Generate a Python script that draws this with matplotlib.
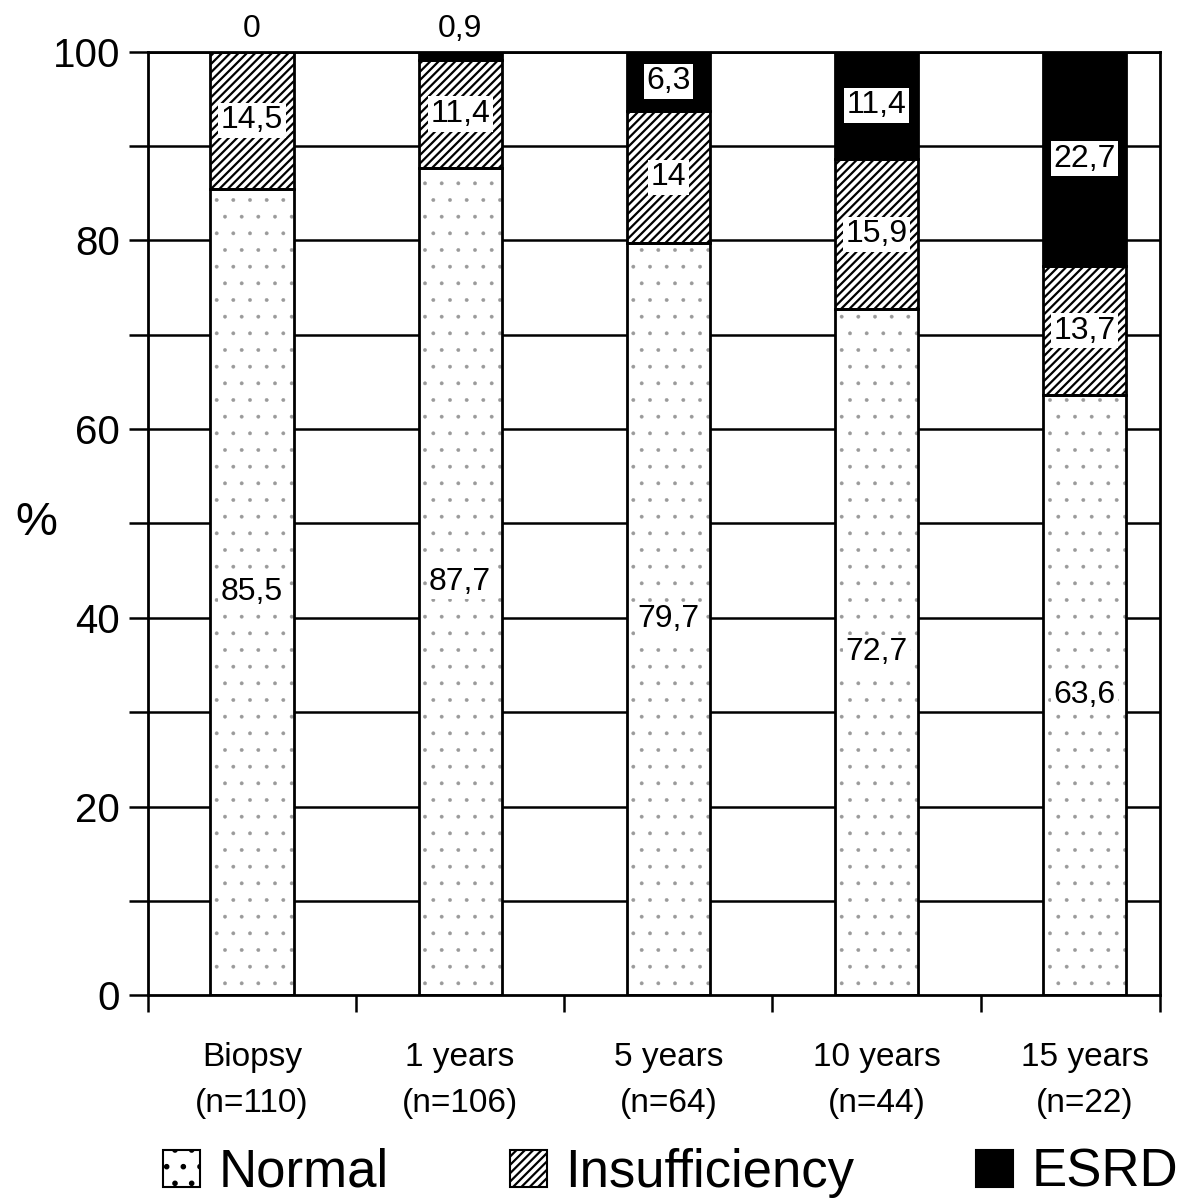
import matplotlib
matplotlib.use("Agg")
import matplotlib.pyplot as plt
from matplotlib.patches import Patch
import numpy as np

categories = ["Biopsy\n(n=110)", "1 years\n(n=106)", "5 years\n(n=64)", "10 years\n(n=44)", "15 years\n(n=22)"]
normal = [85.5, 87.7, 79.7, 72.7, 63.6]
insufficiency = [14.5, 11.4, 14.0, 15.9, 13.7]
esrd = [0.0, 0.9, 6.3, 11.4, 22.7]
series_names = ["Normal", "Insufficiency", "ESRD"]

plt.rcParams['font.family'] = ['Liberation Sans', 'DejaVu Sans']

fig = plt.figure(figsize=(11.93, 12.02), dpi=100)
ax = fig.add_axes([0.124, 0.172, 0.848, 0.785])

x = np.arange(len(categories))
w = 0.4
normal = np.array(normal); insufficiency = np.array(insufficiency); esrd = np.array(esrd)

for yv in range(10, 101, 10):
    ax.axhline(yv, color='black', lw=1.8, zorder=0)

# Normal: sparse light dots
plt.rcParams['hatch.linewidth'] = 0.3
ax.bar(x, normal, w, color='white', edgecolor='#9a9a9a', hatch='.', lw=0, zorder=2)
ax.bar(x, normal, w, fill=False, edgecolor='black', lw=2, zorder=3)
plt.rcParams['hatch.linewidth'] = 1.6
ax.bar(x, insufficiency, w, bottom=normal, color='white', edgecolor='black', hatch='////', lw=2, zorder=2)
ax.bar(x, esrd, w, bottom=normal + insufficiency, color='black', edgecolor='black', lw=2, zorder=2)

def fmt(v):
    return ('%g' % v).replace('.', ',')

bb = dict(boxstyle='square,pad=0.08', fc='white', ec='none')
fs = 23
for i in range(len(x)):
    ax.text(x[i], normal[i] / 2, fmt(normal[i]), ha='center', va='center', fontsize=fs, zorder=5, bbox=bb)
    ax.text(x[i], normal[i] + insufficiency[i] / 2, fmt(insufficiency[i]), ha='center', va='center', fontsize=fs, zorder=5, bbox=bb)
    if esrd[i] < 3:
        ax.text(x[i], 102.4, fmt(esrd[i]), ha='center', va='center', fontsize=fs, zorder=5, clip_on=False)
    else:
        ax.text(x[i], normal[i] + insufficiency[i] + esrd[i] / 2, fmt(esrd[i]), ha='center', va='center', fontsize=fs, zorder=5, bbox=bb)

ax.set_ylim(0, 100)
ax.set_xlim(-0.5, 4.36)
ax.set_yticks(range(0, 101, 10))
ax.set_yticklabels([str(v) if v % 20 == 0 else '' for v in range(0, 101, 10)], fontsize=29)
ax.tick_params(axis='y', direction='out', length=14, width=1.8, pad=6)
ax.set_xticks(x)
ax.set_xticklabels(categories, fontsize=24, linespacing=1.6)
ax.tick_params(axis='x', which='major', length=0, pad=34)
ax.set_xticks(list(np.arange(-0.5, 4.0, 1.0)) + [4.36], minor=True)
ax.tick_params(axis='x', which='minor', direction='out', length=12, width=1.8)

for s in ax.spines.values():
    s.set_linewidth(2)
    s.set_color('black')

ax.set_ylabel('%', fontsize=34, rotation=0, labelpad=12, va='center')

handles = [Patch(facecolor='white', edgecolor='black', hatch='.', lw=1.5),
           Patch(facecolor='white', edgecolor='black', hatch='////', lw=1.5),
           Patch(facecolor='black', edgecolor='black', lw=1.5)]
fig.legend(handles, series_names, loc='lower center', bbox_to_anchor=(0.562, -0.036), ncol=3,
           frameon=False, fontsize=38, handlelength=0.7, handleheight=0.7, handletextpad=0.35,
           columnspacing=2.3)

fig.savefig('out.png', dpi=100)
